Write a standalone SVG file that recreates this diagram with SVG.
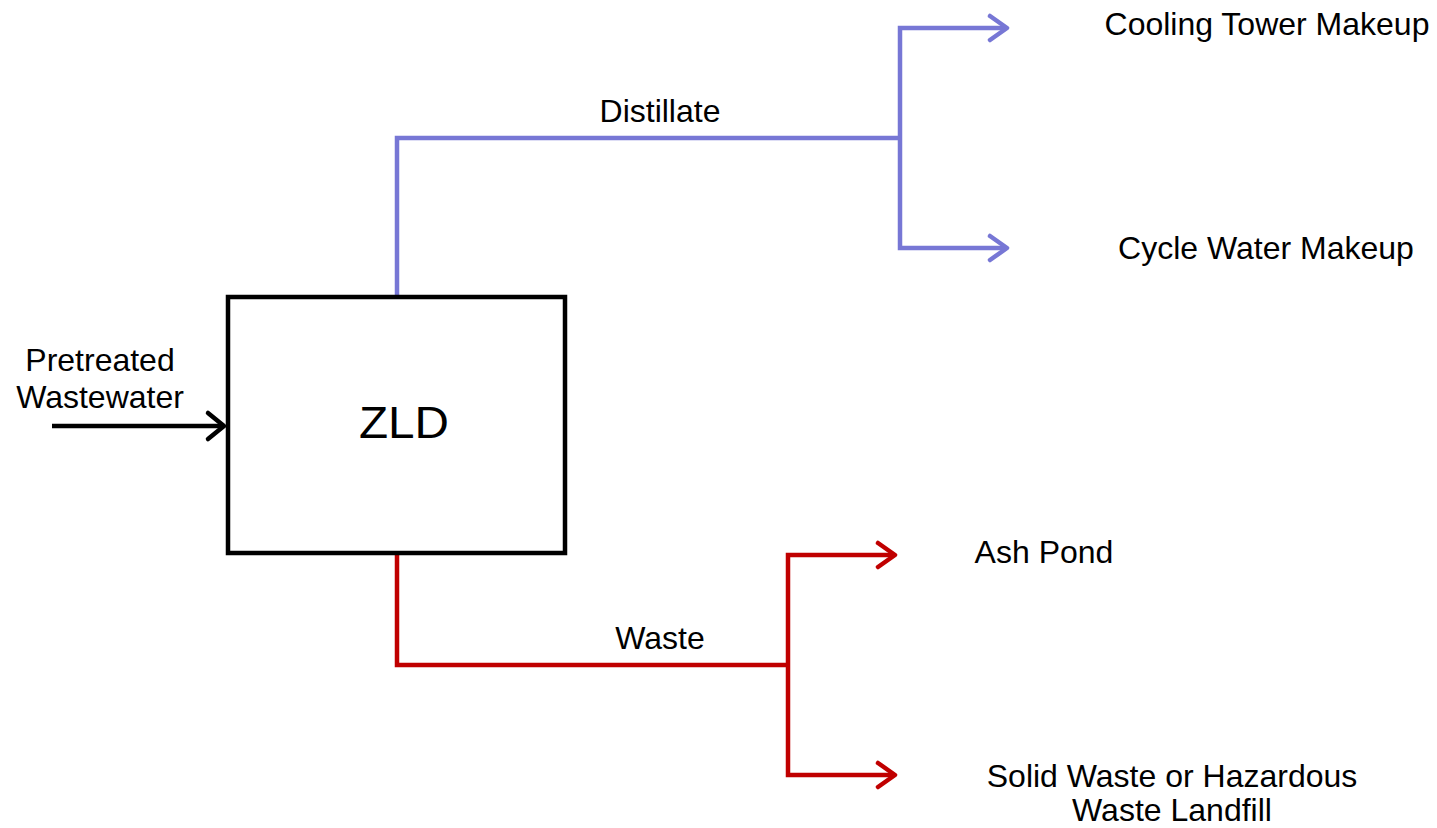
<svg xmlns="http://www.w3.org/2000/svg" width="1437" height="828" viewBox="0 0 1437 828">
<style>
text{font-family:"Liberation Sans",Arial,sans-serif;fill:#000;text-anchor:middle}
.lbl{font-size:32px}
.blue{stroke:#7777d5;stroke-width:4.5;fill:none;stroke-linejoin:miter}
.red{stroke:#c00000;stroke-width:4.5;fill:none;stroke-linejoin:miter}
.blk{stroke:#000;stroke-width:4.5;fill:none}
.head{fill:none;stroke-width:4.5;stroke-linecap:round;stroke-linejoin:round}
</style>
<rect width="1437" height="828" fill="#fff"/>
<g id="connectors">
<path class="blk" d="M52 426H224"/>
<path class="head" stroke="#000" d="M208 413L224 426L208 439"/>
<path class="blue" d="M397 296V138H900"/>
<path class="blue" d="M1006 28H900V248H1006"/>
<path class="head" stroke="#7777d5" d="M990 16L1007 28L990 40M990 236L1007 248L990 260"/>
<path class="red" d="M397 555V665H788"/>
<path class="red" d="M894 555H788V775H894"/>
<path class="head" stroke="#c00000" d="M878 543L895 555L878 567M878 763L895 775L878 787"/>
</g>
<g id="zld">
<rect x="228" y="297" width="337" height="256" fill="#fff" stroke="#000" stroke-width="4.5"/>
<text x="404" y="438" font-size="44" textLength="90" lengthAdjust="spacingAndGlyphs">ZLD</text>
</g>
<g id="input"><text class="lbl" x="100" y="371">Pretreated</text><text class="lbl" x="100" y="408">Wastewater</text></g>
<g id="distillate"><text class="lbl" x="660" y="122">Distillate</text></g>
<g id="waste"><text class="lbl" x="660" y="649">Waste</text></g>
<g id="cooling"><text class="lbl" x="1267" y="35">Cooling Tower Makeup</text></g>
<g id="cycle"><text class="lbl" x="1266" y="259">Cycle Water Makeup</text></g>
<g id="ash"><text class="lbl" x="1044" y="563">Ash Pond</text></g>
<g id="landfill"><text class="lbl" x="1172" y="787">Solid Waste or Hazardous</text><text class="lbl" x="1172" y="821">Waste Landfill</text></g>
</svg>
